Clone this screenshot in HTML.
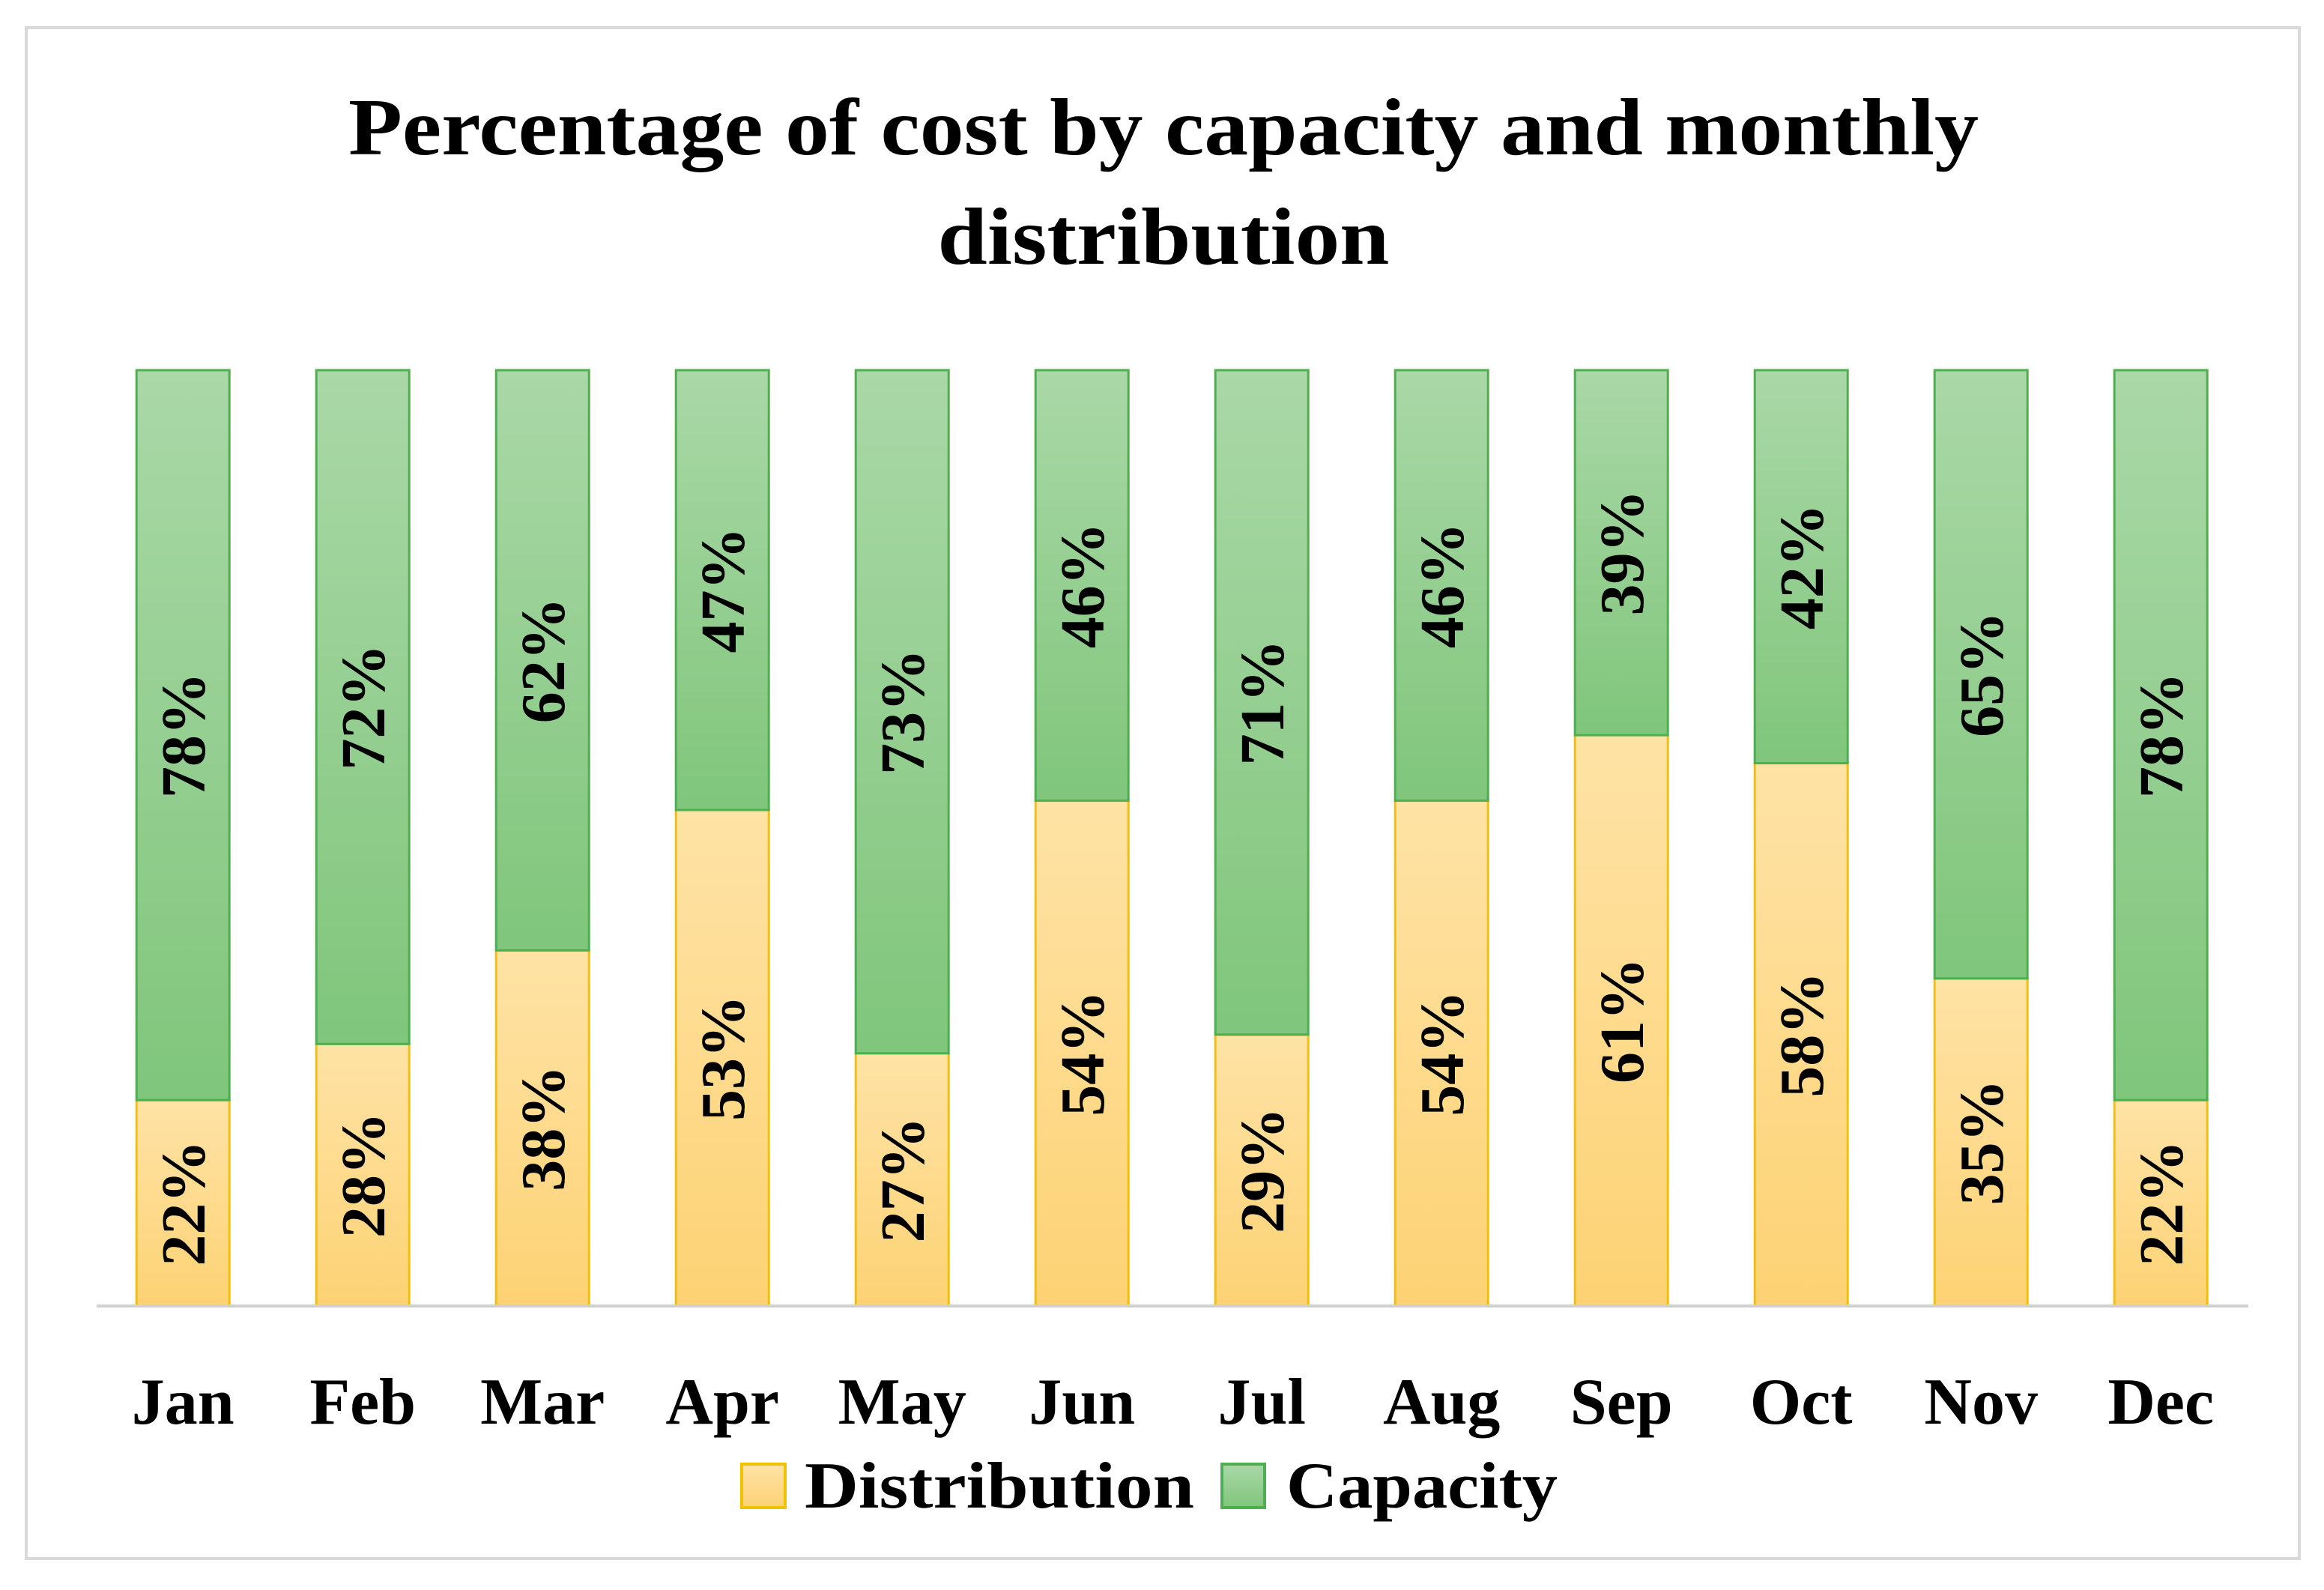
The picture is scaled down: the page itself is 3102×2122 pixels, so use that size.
<!DOCTYPE html>
<html><head><meta charset="utf-8"><style>
html,body{margin:0;padding:0;background:#fff;}
body{width:3102px;height:2117px;position:relative;overflow:hidden;font-family:"Liberation Serif",serif;}
</style></head><body>
<svg id="chart" width="3102" height="2117" xmlns="http://www.w3.org/2000/svg">
<defs>
<linearGradient id="gGreen" x1="0" y1="0" x2="0" y2="1"><stop offset="0" stop-color="#aad8a7"/><stop offset="1" stop-color="#80c67c"/></linearGradient>
<linearGradient id="gOrange" x1="0" y1="0" x2="0" y2="1"><stop offset="0" stop-color="#fee3a6"/><stop offset="1" stop-color="#fdd274"/></linearGradient>
</defs>
<rect x="35" y="37" width="3034" height="2043" fill="#fff" stroke="#d9d9d9" stroke-width="4"/>
<text x="1553" y="206" text-anchor="middle" font-size="108" font-weight="bold" fill="#000" textLength="2176" lengthAdjust="spacingAndGlyphs">Percentage of cost by capacity and monthly</text>
<text x="1553" y="352" text-anchor="middle" font-size="108" font-weight="bold" fill="#000" textLength="603" lengthAdjust="spacingAndGlyphs">distribution</text>
<g id="bars"></g>
<line x1="129" y1="1743" x2="3001" y2="1743" stroke="#d0d0d0" stroke-width="4"/>
<g id="xlabels"></g>
<g>
<rect x="990" y="1954" width="58" height="58" fill="url(#gOrange)" stroke="#f2c200" stroke-width="4"/>
<text x="1074" y="2012" font-size="88" font-weight="bold" fill="#000" textLength="520" lengthAdjust="spacingAndGlyphs">Distribution</text>
<rect x="1631" y="1954" width="57" height="58" fill="url(#gGreen)" stroke="#4caf50" stroke-width="4"/>
<text x="1717" y="2012" font-size="88" font-weight="bold" fill="#000" textLength="362" lengthAdjust="spacingAndGlyphs">Capacity</text>
</g>
</svg>
<script>
const months = ["Jan","Feb","Mar","Apr","May","Jun","Jul","Aug","Sep","Oct","Nov","Dec"];
const distribution = [22,28,38,53,27,54,29,54,61,58,35,22];
const capacity = [78,72,62,47,73,46,71,46,39,42,65,78];
const NS="http://www.w3.org/2000/svg";
const plotTop=494, baseY=1743, x0=129, bandW=240, barW=124;
function yScale(v){return baseY-(v/100)*(baseY-plotTop);}
function xCenter(i){return x0+bandW*0.48+i*bandW;}
const bars=document.getElementById('bars');
const xl=document.getElementById('xlabels');
function seg(i,start,val,fill,stroke,name){
  const yTop=yScale(start+val), yBot=yScale(start);
  const r=document.createElementNS(NS,'rect');
  r.setAttribute('x',xCenter(i)-barW/2);r.setAttribute('y',yTop);
  r.setAttribute('width',barW);r.setAttribute('height',yBot-yTop);
  r.setAttribute('fill',fill);r.setAttribute('stroke',stroke);r.setAttribute('stroke-width','3');
  
  
  bars.appendChild(r);
  const t=document.createElementNS(NS,'text');
  const cy=(yTop+yBot)/2, cx=xCenter(i);
  t.setAttribute('transform','translate('+(cx+29)+','+cy+') rotate(-90)');
  t.setAttribute('text-anchor','middle');t.setAttribute('font-size','84');t.setAttribute('font-weight','bold');
  t.textContent=val+'%';
  
  
  bars.appendChild(t);
}
months.forEach((m,i)=>{
  seg(i,0,distribution[i],'url(#gOrange)','#f2c200','distribution');
  seg(i,distribution[i],capacity[i],'url(#gGreen)','#4caf50','capacity');
  const t=document.createElementNS(NS,'text');
  t.setAttribute('x',xCenter(i));t.setAttribute('y',1900);
  t.setAttribute('text-anchor','middle');t.setAttribute('font-size','88');t.setAttribute('font-weight','bold');
  t.textContent=m;
  
  
  xl.appendChild(t);
});
</script>
</body></html>
